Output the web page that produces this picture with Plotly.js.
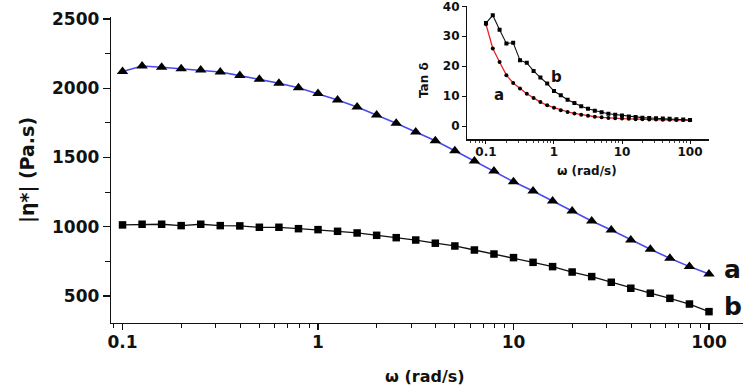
<!DOCTYPE html>
<html>
<head>
<meta charset="utf-8">
<script src="https://cdn.plot.ly/plotly-3.0.1.min.js"></script>
<style>
  html, body { margin: 0; padding: 0; background: #fff; }
  #chart { width: 752px; height: 387px; }
</style>
</head>
<body>
<div id="chart"></div>
<script>
// Angular frequency of the sweep (rad/s), 10 points per decade
const omega = [0.1, 0.1259, 0.1585, 0.1995, 0.2512, 0.3162, 0.3981, 0.5012, 0.631, 0.7943,
               1, 1.259, 1.585, 1.995, 2.512, 3.162, 3.981, 5.012, 6.31, 7.943,
               10, 12.59, 15.85, 19.95, 25.12, 31.62, 39.81, 50.12, 63.1, 79.43, 100];

// Complex viscosity |eta*| (Pa.s)
const etaA = [2120, 2160, 2151, 2141, 2132, 2117, 2091, 2065, 2036, 2004,
              1961, 1915, 1865, 1807, 1747, 1684, 1621, 1549, 1475, 1403,
              1325, 1258, 1186, 1114, 1042, 977, 904, 837, 772, 712, 659];
const etaB = [1013, 1018, 1018, 1008, 1018, 1008, 1006, 996, 996, 986,
              979, 967, 955, 938, 921, 904, 881, 861, 832, 803,
              777, 743, 712, 673, 640, 599, 556, 520, 483, 442, 387];

// Loss tangent tan(delta)
const tanA = [34.0, 25.9, 21.4, 17.0, 14.4, 12.5, 10.8, 9.4, 8.0, 6.9,
              6.1, 5.3, 4.7, 4.2, 3.8, 3.4, 3.1, 2.9, 2.7, 2.6,
              2.5, 2.4, 2.3, 2.3, 2.2, 2.2, 2.1, 2.1, 2.0, 2.0, 1.9];
const tanB = [34.4, 37.0, 32.2, 27.6, 27.8, 22.0, 21.1, 18.4, 16.2, 14.2,
              11.7, 10.3, 8.8, 7.7, 6.6, 5.8, 5.1, 4.6, 4.1, 3.8,
              3.5, 3.2, 3.0, 2.8, 2.7, 2.6, 2.5, 2.4, 2.3, 2.2, 2.0];

const freqTicks = [0.1, 1, 10, 100];
const freqTickText = ['0.1', '1', '10', '100'];
const tanTicks = [0, 10, 20, 30, 40];

const FONT = 'DejaVu Sans, Liberation Sans, Arial, sans-serif';
const INK = '#111';

const traces = [
  { x: omega, y: etaA, xaxis: 'x', yaxis: 'y', mode: 'lines+markers',
    line: { color: '#4a4af0', width: 1.6 },
    marker: { symbol: 'triangle-up', size: 10, color: '#000' } },
  { x: omega, y: etaB, xaxis: 'x', yaxis: 'y', mode: 'lines+markers',
    line: { color: '#111', width: 1.3 },
    marker: { symbol: 'square', size: 7.5, color: '#000' } },
  { x: omega, y: tanA, xaxis: 'x2', yaxis: 'y2', mode: 'lines+markers',
    line: { color: '#ee2222', width: 1.3 },
    marker: { symbol: 'circle', size: 4, color: '#000' } },
  { x: omega, y: tanB, xaxis: 'x2', yaxis: 'y2', mode: 'lines+markers',
    line: { color: '#111', width: 1.1 },
    marker: { symbol: 'square', size: 4, color: '#000' } }
];

const mainTick = { family: FONT, size: 17, color: INK, weight: 700 };
const insetTick = { family: FONT, size: 12, color: INK, weight: 700 };

const layout = {
  width: 752, height: 387,
  margin: { l: 111, r: 9, t: 6, b: 64, pad: 0 },
  paper_bgcolor: '#fff', plot_bgcolor: 'rgba(0,0,0,0)',
  showlegend: false,
  font: { family: FONT, color: INK },
  xaxis: {
    type: 'log', range: [-1.059, 2.174], domain: [0, 1],
    showgrid: false, zeroline: false,
    showline: true, linecolor: INK, linewidth: 1.3,
    ticks: 'outside', ticklen: 6, tickwidth: 1.3, tickcolor: INK,
    tickmode: 'array', tickvals: freqTicks, ticktext: freqTickText,
    ticklabelstandoff: -3,
    minor: { ticks: 'outside', ticklen: 3.5, tickwidth: 1, tickcolor: INK, dtick: 'D1', showgrid: false },
    tickfont: mainTick, anchor: 'y'
  },
  yaxis: {
    range: [305, 2514], domain: [0, 0.9653],
    showgrid: false, zeroline: false,
    showline: true, linecolor: INK, linewidth: 1.3,
    ticks: 'outside', ticklen: 7, tickwidth: 1.3, tickcolor: INK,
    tick0: 0, dtick: 500,
    minor: { ticks: 'outside', ticklen: 5, tickwidth: 1, tickcolor: INK, dtick: 250, showgrid: false },
    tickfont: mainTick, anchor: 'x'
  },
  xaxis2: {
    type: 'log', range: [-1.279, 2.279], domain: [0.5633, 0.9462],
    showgrid: false, zeroline: false,
    showline: true, linecolor: INK, linewidth: 1.1,
    ticks: 'outside', ticklen: 3, tickwidth: 1, tickcolor: INK,
    tickmode: 'array', tickvals: freqTicks, ticktext: freqTickText,
    ticklabelstandoff: -2,
    minor: { ticks: 'outside', ticklen: 2, tickwidth: 0.8, tickcolor: INK, dtick: 'D1', showgrid: false },
    tickfont: insetTick, anchor: 'y2'
  },
  yaxis2: {
    range: [-4.5, 40.1], domain: [0.5789, 1],
    showgrid: false, zeroline: false,
    showline: true, linecolor: INK, linewidth: 1.1,
    ticks: 'outside', ticklen: 4, tickwidth: 1, tickcolor: INK,
    tickmode: 'array', tickvals: tanTicks,
    ticklabeloverflow: 'allow',
    tickfont: insetTick, anchor: 'x2'
  },
  annotations: [
    // main axis titles
    { text: '|η*| (Pa.s)', xref: 'paper', yref: 'paper', x: -0.1329, y: 0.4826,
      xanchor: 'center', yanchor: 'middle', textangle: -90, showarrow: false,
      font: { family: FONT, size: 19, color: INK, weight: 700 } },
    { text: 'ω (rad/s)', xref: 'paper', yref: 'paper', x: 0.4968, y: -0.1672,
      xanchor: 'center', yanchor: 'middle', showarrow: false,
      font: { family: FONT, size: 16, color: INK, weight: 700 } },
    // curve labels on the main plot
    { text: 'a', xref: 'paper', yref: 'paper', x: 0.9826, y: 0.170,
      xanchor: 'center', yanchor: 'middle', showarrow: false,
      font: { family: FONT, size: 25, color: INK, weight: 700 } },
    { text: 'b', xref: 'paper', yref: 'paper', x: 0.9842, y: 0.0536,
      xanchor: 'center', yanchor: 'middle', showarrow: false,
      font: { family: FONT, size: 25, color: INK, weight: 700 } },
    // inset axis titles
    { text: 'Tan δ', xref: 'paper', yref: 'paper', x: 0.4953, y: 0.7666,
      xanchor: 'center', yanchor: 'middle', textangle: -90, showarrow: false,
      font: { family: FONT, size: 12, color: INK, weight: 700 } },
    { text: 'ω (rad/s)', xref: 'paper', yref: 'paper', x: 0.7532, y: 0.4795,
      xanchor: 'center', yanchor: 'middle', showarrow: false,
      font: { family: FONT, size: 12, color: INK, weight: 700 } },
    // inset curve labels
    { text: 'a', xref: 'paper', yref: 'paper', x: 0.6135, y: 0.7192,
      xanchor: 'center', yanchor: 'middle', showarrow: false,
      font: { family: FONT, size: 15, color: INK, weight: 700 } },
    { text: 'b', xref: 'paper', yref: 'paper', x: 0.7046, y: 0.777,
      xanchor: 'center', yanchor: 'middle', showarrow: false,
      font: { family: FONT, size: 15, color: INK, weight: 700 } }
  ]
};

Plotly.newPlot('chart', traces, layout, { staticPlot: true, displayModeBar: false });
</script>
</body>
</html>
